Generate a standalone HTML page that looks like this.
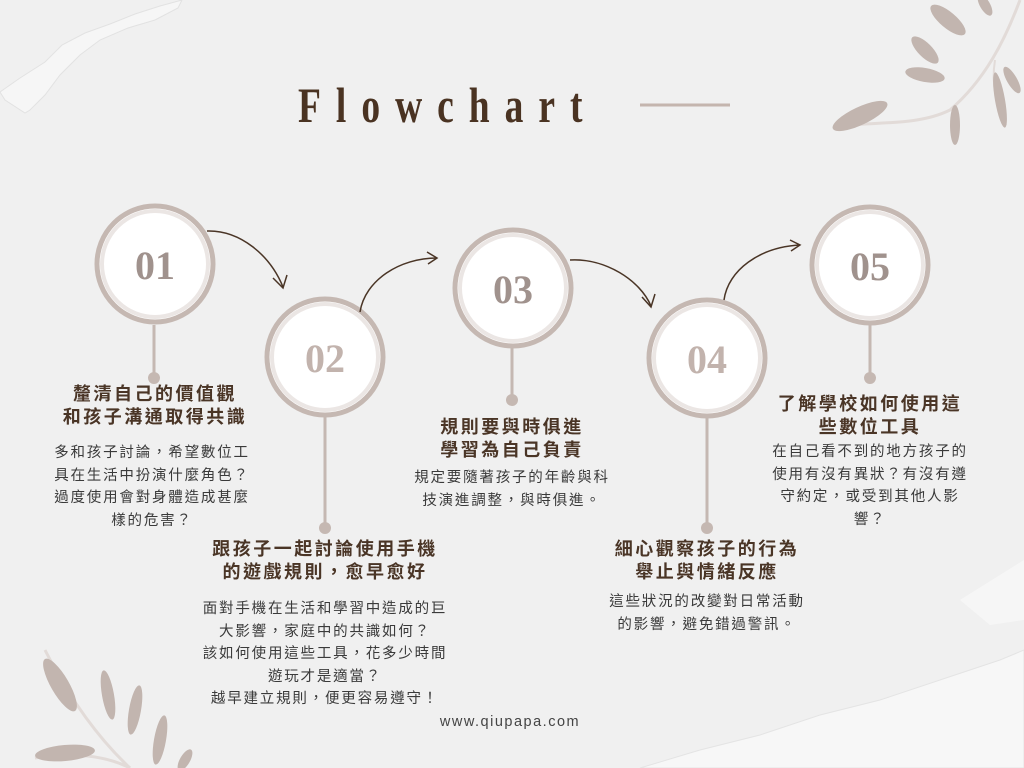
<!DOCTYPE html>
<html><head><meta charset="utf-8"><style>
html,body{margin:0;padding:0}
body{width:1024px;height:768px;background:#f0f0f0;position:relative;overflow:hidden;font-family:"Liberation Sans","Noto Sans CJK TC",sans-serif}
.t{position:absolute;text-align:center;color:#4a3526;font-weight:bold;font-size:18px;line-height:23px;letter-spacing:2.5px;white-space:nowrap;transform:translateX(-50%)}
.b{position:absolute;text-align:center;color:#3a3a3a;font-size:14.5px;line-height:22.5px;letter-spacing:1.8px;white-space:nowrap;transform:translateX(-50%)}
.title{position:absolute;left:298px;top:76px;font-family:"Liberation Serif",serif;font-weight:bold;font-size:50px;letter-spacing:20px;color:#4a3322;transform:scaleX(0.75);transform-origin:left}
</style></head><body>
<svg width="1024" height="768" style="position:absolute;left:0;top:0">
<!-- torn paper top left -->
<polygon points="0,92 20,78 45,62 62,45 85,33 110,24 135,14 160,6 182,0 178,8 155,20 128,28 100,40 80,55 60,75 45,95 30,110 25,113 5,100" fill="#f6f6f6" stroke="#e2e2e2" stroke-width="1"/>
<!-- torn paper bottom right -->
<polygon points="640,768 700,750 760,735 820,715 880,700 940,680 1000,660 1024,650 1024,768" fill="#f7f7f7" stroke="#e4e4e4"/>
<polygon points="960,600 1024,560 1024,620 990,625" fill="#f6f6f6"/>
<!-- leaves top right -->
<g fill="#c2b5af">
<path d="M1020,0 C1005,40 985,80 950,110 C920,125 880,122 850,125" stroke="#e2dbd8" stroke-width="3" fill="none"/>
<path d="M995,60 C990,90 1000,110 1006,125" stroke="#e2dbd8" stroke-width="2" fill="none"/>
<ellipse cx="948" cy="20" rx="22" ry="8" transform="rotate(40 948 20)"/>
<ellipse cx="925" cy="75" rx="20" ry="7" transform="rotate(10 925 75)"/>
<ellipse cx="925" cy="50" rx="18" ry="7" transform="rotate(45 925 50)"/>
<ellipse cx="860" cy="116" rx="30" ry="9" transform="rotate(-25 860 116)"/>
<ellipse cx="1000" cy="100" rx="28" ry="5" transform="rotate(80 1000 100)"/>
<ellipse cx="955" cy="125" rx="20" ry="5" transform="rotate(90 955 125)"/>
<ellipse cx="1012" cy="80" rx="15" ry="5" transform="rotate(60 1012 80)"/>
<ellipse cx="985" cy="5" rx="12" ry="5" transform="rotate(60 985 5)"/>
</g>
<!-- leaves bottom left -->
<g fill="#c2b5af">
<path d="M45,650 C70,700 100,740 130,768" stroke="#e2dbd8" stroke-width="3" fill="none"/>
<path d="M35,758 C70,752 105,755 130,768" stroke="#e2dbd8" stroke-width="3" fill="none"/>
<ellipse cx="60" cy="685" rx="30" ry="9" transform="rotate(60 60 685)"/>
<ellipse cx="108" cy="695" rx="25" ry="6" transform="rotate(80 108 695)"/>
<ellipse cx="135" cy="710" rx="25" ry="6" transform="rotate(100 135 710)"/>
<ellipse cx="65" cy="753" rx="30" ry="8" transform="rotate(-5 65 753)"/>
<ellipse cx="160" cy="740" rx="25" ry="6" transform="rotate(100 160 740)"/>
<ellipse cx="185" cy="760" rx="12" ry="5" transform="rotate(120 185 760)"/>
</g>
<!-- title line -->
<line x1="640" y1="105" x2="730" y2="105" stroke="#c4b5ae" stroke-width="3"/>
<!-- stems -->
<g stroke="#c5b8b2" stroke-width="3">
<line x1="154" y1="325" x2="154" y2="378"/>
<line x1="325" y1="417" x2="325" y2="528"/>
<line x1="512" y1="348" x2="512" y2="400"/>
<line x1="707" y1="418" x2="707" y2="528"/>
<line x1="870" y1="325" x2="870" y2="378"/>
</g>
<g fill="#c5b8b2">
<circle cx="154" cy="378" r="6"/><circle cx="325" cy="528" r="6"/><circle cx="512" cy="400" r="6"/><circle cx="707" cy="528" r="6"/><circle cx="870" cy="378" r="6"/>
</g>
<!-- circles -->
<g stroke="#c5b8b2" stroke-width="5" fill="#fff">
<circle cx="155" cy="264" r="58"/><circle cx="325" cy="357" r="58"/><circle cx="513" cy="288" r="58"/><circle cx="707" cy="358" r="58"/><circle cx="870" cy="265" r="58"/>
</g>
<g fill="none" stroke="#ebe6e4" stroke-width="4">
<circle cx="155" cy="264" r="53"/><circle cx="325" cy="357" r="53"/><circle cx="513" cy="288" r="53"/><circle cx="707" cy="358" r="53"/><circle cx="870" cy="265" r="53"/>
</g>
<g font-family="Liberation Serif,serif" font-weight="bold" font-size="40" text-anchor="middle" fill="#a0928d">
<text x="155" y="279">01</text><text x="325" y="372" fill="#c2b3ad">02</text><text x="513" y="303">03</text><text x="707" y="373" fill="#c2b3ad">04</text><text x="870" y="280">05</text>
</g>
<!-- arrows -->
<g fill="none" stroke="#4a3526" stroke-width="1.5">
<path d="M207,231 C240,230 270,255 283,287"/><path d="M273,278 L283,288 L287,275"/>
<path d="M360,312 C365,280 400,258 437,258"/><path d="M427,252 L437,258 L428,264"/>
<path d="M570,260 C605,258 640,280 651,306"/><path d="M642,297 L651,307 L655,294"/>
<path d="M724,300 C728,270 760,247 800,245"/><path d="M790,240 L800,245 L791,251"/>
</g>
</svg>
<div class="title">Flowchart</div>

<div class="t" style="left:155px;top:383px">釐清自己的價值觀<br>和孩子溝通取得共識</div>
<div class="b" style="left:152px;top:442px">多和孩子討論，希望數位工<br>具在生活中扮演什麼角色？<br>過度使用會對身體造成甚麼<br>樣的危害？</div>

<div class="t" style="left:325px;top:538px">跟孩子一起討論使用手機<br>的遊戲規則，愈早愈好</div>
<div class="b" style="left:325px;top:598px">面對手機在生活和學習中造成的巨<br>大影響，家庭中的共識如何？<br>該如何使用這些工具，花多少時間<br>遊玩才是適當？<br>越早建立規則，便更容易遵守！</div>

<div class="t" style="left:512px;top:416px">規則要與時俱進<br>學習為自己負責</div>
<div class="b" style="left:512px;top:467px">規定要隨著孩子的年齡與科<br>技演進調整，與時俱進。</div>

<div class="t" style="left:707px;top:538px">細心觀察孩子的行為<br>舉止與情緒反應</div>
<div class="b" style="left:707px;top:591px">這些狀況的改變對日常活動<br>的影響，避免錯過警訊。</div>

<div class="t" style="left:870px;top:393px">了解學校如何使用這<br>些數位工具</div>
<div class="b" style="left:870px;top:441px">在自己看不到的地方孩子的<br>使用有沒有異狀？有沒有遵<br>守約定，或受到其他人影<br>響？</div>

<div class="b" style="left:510px;top:711px;color:#444;letter-spacing:1.5px">www.qiupapa.com</div>
</body></html>
